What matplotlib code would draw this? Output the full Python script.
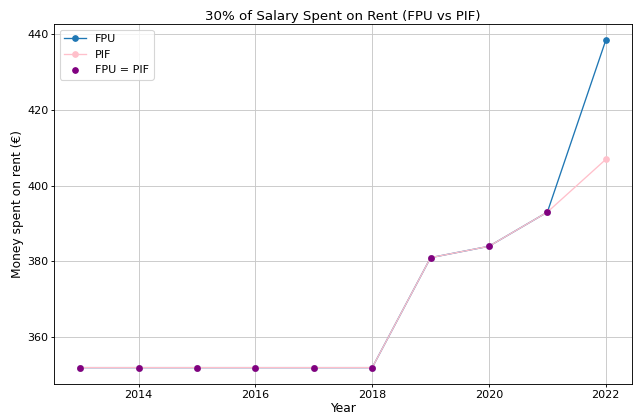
import matplotlib
matplotlib.use("Agg")
import matplotlib.pyplot as plt
import numpy as np

years = [2013, 2014, 2015, 2016, 2017, 2018, 2019, 2020, 2021, 2022]
fpu = [352, 352, 352, 352, 352, 352, 381, 384, 393, 438.3]
pif = [352, 352, 352, 352, 352, 352, 381, 384, 393, 406.9]

DPI = 80
fig, ax = plt.subplots(figsize=(639 / DPI, 415 / DPI), dpi=DPI)
ax.plot(years, fpu, marker='o', markersize=5, linewidth=1.2, color='#1f77b4', label='FPU')
ax.plot(years, pif, marker='o', markersize=5, linewidth=1.2, color='pink', label='PIF')
eq_years = [y for y, a, b in zip(years, fpu, pif) if a == b]
eq_vals = [a for a, b in zip(fpu, pif) if a == b]
ax.scatter(eq_years, eq_vals, s=25, color='purple', zorder=3, label='FPU = PIF')
ax.set_title('30% of Salary Spent on Rent (FPU vs PIF)', fontsize=12, pad=4)
ax.set_xlabel('Year', fontsize=11, labelpad=2.5)
ax.set_ylabel('Money spent on rent (€)', fontsize=11, labelpad=3)
ax.tick_params(labelsize=10, length=2.8, pad=2.2)
ax.grid(True, color='#c8c8c8', linewidth=0.8)
ax.legend(loc='upper left', fontsize=10)
fig.subplots_adjust(left=54 / 639, right=632 / 639, top=1 - 24 / 415, bottom=1 - 384 / 415)
fig.savefig('out.png', dpi=DPI)
